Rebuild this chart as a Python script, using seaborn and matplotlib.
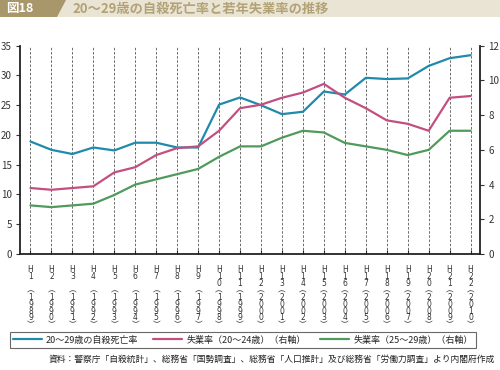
import matplotlib
matplotlib.use("Agg")
import matplotlib.pyplot as plt
import seaborn as sns
import pandas as pd
import numpy as np
from matplotlib.patches import Polygon, Rectangle

sns.set_theme(style="white")
plt.rcParams['font.family'] = ['Noto Sans CJK JP', 'DejaVu Sans']

heisei = ["1", "2", "3", "4", "5", "6", "7", "8", "9", "10", "11",
          "12", "13", "14", "15", "16", "17", "18", "19", "20", "21", "22"]
years = ["1989", "1990", "1991", "1992", "1993", "1994", "1995", "1996",
         "1997", "1998", "1999", "2000", "2001", "2002", "2003", "2004",
         "2005", "2006", "2007", "2008", "2009", "2010"]
suicide_rate = [18.9, 17.5, 16.8, 17.9, 17.4, 18.7, 18.7, 17.9, 17.9, 25.1, 26.3,
                25.0, 23.5, 23.9, 27.3, 26.8, 29.6, 29.4, 29.5, 31.6, 32.9, 33.4]
unemp_20_24 = [3.8, 3.7, 3.8, 3.9, 4.7, 5.0, 5.7, 6.1, 6.2, 7.1, 8.4,
               8.6, 9.0, 9.3, 9.8, 9.0, 8.4, 7.7, 7.5, 7.1, 9.0, 9.1]
unemp_25_29 = [2.8, 2.7, 2.8, 2.9, 3.4, 4.0, 4.3, 4.6, 4.9, 5.6, 6.2,
               6.2, 6.7, 7.1, 7.0, 6.4, 6.2, 6.0, 5.7, 6.0, 7.1, 7.1]

labels_legend = ["20～29歳の自殺死亡率", "失業率（20～24歳）（右軸）", "失業率（25～29歳）（右軸）"]
colors = ["#1f8aab", "#c24f80", "#4f9a5c"]

def tick_label(h, y):
    chars = ["H"] + list(h)
    if len(h) == 1:
        chars.append(" ")
    chars += ["︵"] + list(y) + ["︶"]
    return "\n".join(chars)

df = pd.DataFrame({"x": np.arange(len(heisei)), "s": suicide_rate,
                   "u1": unemp_20_24, "u2": unemp_25_29})

fig = plt.figure(figsize=(5, 3.7), dpi=100)
ax = fig.add_axes([0.04, 0.3135, 0.92, 0.563])
ax2 = ax.twinx()

for xi in df["x"]:
    ax.axvline(xi, color="#555555", lw=0.6, ls=(0, (3, 2)), zorder=0)

sns.lineplot(data=df, x="x", y="s", ax=ax, color=colors[0], lw=1.6, label=labels_legend[0], legend=False)
sns.lineplot(data=df, x="x", y="u1", ax=ax2, color=colors[1], lw=1.6, label=labels_legend[1], legend=False)
sns.lineplot(data=df, x="x", y="u2", ax=ax2, color=colors[2], lw=1.6, label=labels_legend[2], legend=False)

ax.set_xlim(-0.5, 21.45)
ax.set_ylim(0, 35)
ax2.set_ylim(0, 12)
ax.set_yticks(range(0, 36, 5))
ax2.set_yticks(range(0, 13, 2))
ax.set_xticks(df["x"])
ax.set_xticklabels([tick_label(h, y) for h, y in zip(heisei, years)],
                   fontsize=5.5, linespacing=0.7, va="top", color="#333333",
                   family=["DejaVu Sans", "Noto Sans CJK JP"])
ax.set_xlabel("")
ax.set_ylabel("")
ax2.set_ylabel("")

for a in (ax, ax2):
    a.spines["top"].set_visible(False)
    for s in ("left", "right", "bottom"):
        a.spines[s].set_color("#222222")
        a.spines[s].set_linewidth(1.3)
ax.spines["right"].set_visible(False)
ax2.spines["left"].set_visible(False)
ax2.spines["bottom"].set_visible(False)

ax.tick_params(axis="y", direction="out", length=3, width=0.8, labelsize=7, colors="#333333", pad=3, left=True)
ax.tick_params(axis="x", direction="in", length=3, width=0.8, pad=8, bottom=True)
ax2.tick_params(axis="y", direction="out", length=3, width=0.8, labelsize=7, colors="#333333", pad=3, right=True)

# legend
handles = ax.get_lines()[-1:] + ax2.get_lines()[:2]
leg = fig.legend(handles, labels_legend, loc="lower left", bbox_to_anchor=(0.01, 0.048),
                 ncol=3, fontsize=6.5, frameon=True, fancybox=False, handlelength=3.2,
                 columnspacing=1.6, handletextpad=0.5, borderpad=0.35,
                 bbox_transform=fig.transFigure)
leg.get_frame().set_edgecolor("#444444")
leg.get_frame().set_linewidth(0.8)

fig.text(0.99, 0.016, "資料：警察庁「自殺統計」、総務省「国勢調査」、総務省「人口推計」及び総務省「労働力調査」より内閣府作成",
         ha="right", va="bottom", fontsize=6.3, color="#222222")

# title banner
H = 17 / 370
fig.patches.append(Rectangle((0, 1 - H), 1, H, transform=fig.transFigure,
                             facecolor="#e9e4d4", edgecolor="none", zorder=0))
fig.patches.append(Polygon([(0, 1 - H), (0, 1), (66 / 500, 1), (57 / 500, 1 - H)],
                           closed=True, transform=fig.transFigure,
                           facecolor="#a8976a", edgecolor="none", zorder=1))
fig.text(6 / 500, 1 - H / 2, "図18", ha="left", va="center", fontsize=9,
         fontweight="bold", color="white")
fig.text(72 / 500, 1 - H / 2, "20～29歳の自殺死亡率と若年失業率の推移", ha="left", va="center",
         fontsize=9.5, fontweight="bold", color="#b2a276")

fig.savefig("out.png", dpi=100)
